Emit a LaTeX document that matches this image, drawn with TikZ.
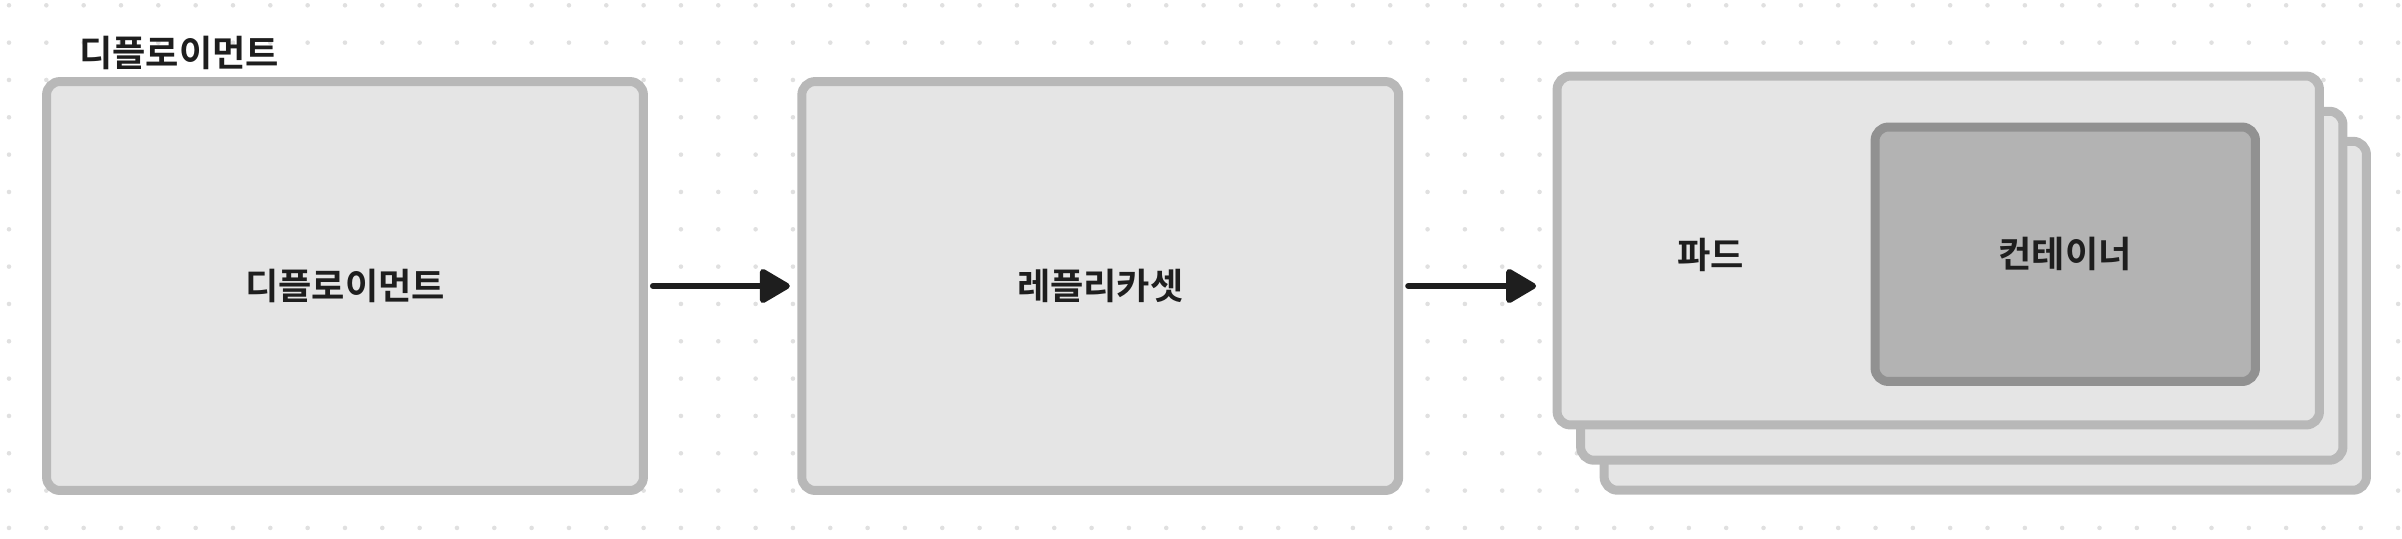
\documentclass[tikz,border=0pt]{standalone}
\usepackage{fontspec}
\newfontfamily\krfont{Noto Sans CJK KR Bold}
\usetikzlibrary{arrows.meta}
\definecolor{boxfill}{HTML}{E5E5E5}
\definecolor{boxline}{HTML}{B8B8B8}
\definecolor{ctrfill}{HTML}{B3B3B3}
\definecolor{ctrline}{HTML}{919191}
\definecolor{ink}{HTML}{1E1E1E}
\definecolor{dotcol}{HTML}{E0E0E0}

\begin{document}
\begin{tikzpicture}[x=0.02cm,y=-0.02cm,
		box/.style={draw=boxline,fill=boxfill,line width=0.18cm,rounded corners=0.27cm,minimum width=11.94cm,minimum height=8.18cm},
		pod/.style={box,minimum width=15.25cm,minimum height=6.98cm},
		ctr/.style={box,draw=ctrline,fill=ctrfill,minimum width=7.61cm,minimum height=5.09cm},
		lbl/.style={font=\krfont\fontsize{20.6}{21}\selectfont,text=ink},
		link/.style={draw=ink,line width=0.12cm,line cap=round,-{Triangle[length=0.66cm,width=0.74cm,round]}}]
		\useasboundingbox (0,0) rectangle (2402,538);
		% dot grid
		\foreach \i in {0,...,64}
			\foreach \j in {0,...,14}
				\fill[dotcol] (9+37.33*\i,5.3+37.33*\j) circle (0.046cm);
		\node[lbl] (title) at (179,53) {디플로이먼트};
		\node[box,lbl] (deploy) at (345,286) {디플로이먼트};
		\node[box,lbl] (rs) at (1100.25,286) {레플리카셋};
		% pod stack
		\node[pod] (pod3) at (1985.25,315.75) {};
		\node[pod] (pod2) at (1961.75,285.75) {};
		\node[pod] (pod1) at (1938.25,250.5) {};
		\node[lbl] (podlbl) at (1710.5,255) {파드};
		\node[ctr,lbl] (ctr) at (2065.25,254.25) {컨테이너};
		\draw[link,shorten <=0.1cm,shorten >=0.15cm] (deploy.east) -- (rs.west);
		\draw[link,shorten <=0.1cm,shorten >=0.33cm] (rs.east) -- (rs.east -| pod1.west);
	\end{tikzpicture}
\end{document}
